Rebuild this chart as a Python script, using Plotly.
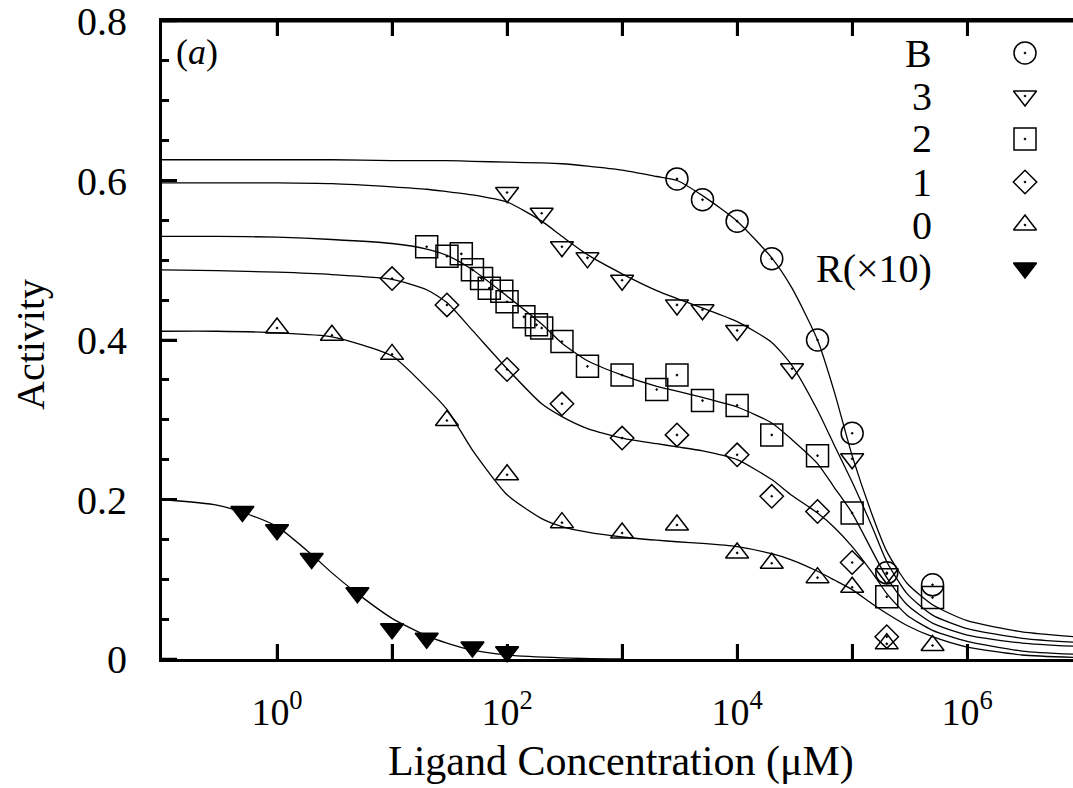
import math
import plotly.graph_objects as go

# ---------------- data ----------------
# Fitted curves, sampled on a shared concentration grid (uM)
curve_x = [0.1, 0.3, 1, 3, 10, 20, 30, 50, 100, 200, 300, 500, 1e3, 2e3, 3e3, 5e3,
           1e4, 2e4, 3e4, 5e4, 7e4, 1e5, 1.5e5, 2e5, 3e5, 5e5, 1e6, 3e6, 8.5e6]
curve_B = [0.626, 0.626, 0.626, 0.626, 0.625, 0.625, 0.625, 0.624, 0.623, 0.622, 0.621, 0.618,
           0.613, 0.605, 0.600, 0.581, 0.549, 0.503, 0.465, 0.400, 0.335, 0.255, 0.180, 0.135,
           0.095, 0.068, 0.048, 0.034, 0.028]
curve_3 = [0.597, 0.597, 0.597, 0.596, 0.592, 0.589, 0.586, 0.582, 0.573, 0.549, 0.530, 0.507,
           0.483, 0.462, 0.452, 0.440, 0.423, 0.397, 0.368, 0.312, 0.268, 0.222, 0.165, 0.122,
           0.082, 0.055, 0.038, 0.026, 0.021]
curve_2 = [0.530, 0.530, 0.529, 0.526, 0.521, 0.514, 0.506, 0.488, 0.455, 0.420, 0.396, 0.374,
           0.356, 0.342, 0.336, 0.328, 0.316, 0.296, 0.275, 0.245, 0.215, 0.183, 0.135, 0.102,
           0.068, 0.045, 0.030, 0.020, 0.016]
curve_1 = [0.488, 0.487, 0.485, 0.482, 0.476, 0.463, 0.447, 0.412, 0.364, 0.320, 0.304, 0.289,
           0.277, 0.270, 0.266, 0.261, 0.250, 0.225, 0.205, 0.183, 0.165, 0.141, 0.108, 0.082,
           0.055, 0.036, 0.022, 0.010, 0.006]
curve_0 = [0.411, 0.411, 0.409, 0.404, 0.380, 0.340, 0.313, 0.262, 0.206, 0.176, 0.166, 0.159,
           0.153, 0.149, 0.147, 0.145, 0.141, 0.132, 0.124, 0.110, 0.099, 0.087, 0.069, 0.057,
           0.042, 0.028, 0.015, 0.005, 0.002]
curveR_x = [0.1, 0.3, 0.5, 1, 2, 3, 5, 10, 20, 30, 50, 100, 300, 1000]
curve_R = [0.200, 0.193, 0.184, 0.166, 0.131, 0.108, 0.082, 0.051, 0.029, 0.020, 0.011, 0.005,
           0.0015, 0.0]

# Measured points
B_x = [3e3, 5e3, 1e4, 2e4, 5e4, 1e5, 2e5, 5e5]
B_y = [0.602, 0.576, 0.549, 0.502, 0.400, 0.283, 0.108, 0.093]
s3_x = [100, 200, 300, 500, 1e3, 3e3, 5e3, 1e4, 3e4, 1e5, 2e5]
s3_y = [0.585, 0.559, 0.517, 0.503, 0.475, 0.444, 0.438, 0.412, 0.364, 0.251, 0.107]
s2_x = [20, 30, 40, 50, 60, 70, 90, 100, 140, 180, 200, 300, 500, 1e3, 2e3, 3e3, 5e3,
        1e4, 2e4, 5e4, 1e5, 2e5, 5e5]
s2_y = [0.517, 0.505, 0.508, 0.488, 0.477, 0.465, 0.461, 0.448, 0.429, 0.419, 0.415, 0.398,
        0.367, 0.356, 0.338, 0.356, 0.324, 0.318, 0.281, 0.255, 0.183, 0.078, 0.077]
s1_x = [10, 30, 100, 300, 1e3, 3e3, 1e4, 2e4, 5e4, 1e5, 2e5]
s1_y = [0.477, 0.444, 0.363, 0.320, 0.277, 0.281, 0.256, 0.204, 0.185, 0.121, 0.028]
s0_x = [1, 3, 10, 30, 100, 300, 1e3, 3e3, 1e4, 2e4, 5e4, 1e5, 2e5, 5e5]
s0_y = [0.415, 0.406, 0.382, 0.299, 0.231, 0.171, 0.158, 0.168, 0.133, 0.120, 0.102, 0.090,
        0.019, 0.017]
R_x = [0.5, 1, 2, 5, 10, 20, 50, 100]
R_y = [0.185, 0.162, 0.126, 0.083, 0.038, 0.026, 0.015, 0.009]

legend_labels = ["B", "3", "2", "1", "0", "R(\u00d710)"]
legend_symbols = ["circle-open-dot", "triangle-down-open-dot", "square-open-dot",
                  "diamond-open-dot", "triangle-up-open-dot", "triangle-down"]
legend_sizes = [22, 20, 22, 18, 20, 20]

x_tickvals = [1, 10, 100, 1e3, 1e4, 1e5, 1e6]
x_ticktext = ["10<sup>0</sup>", " ", "10<sup>2</sup>", " ", "10<sup>4</sup>", " ",
              "10<sup>6</sup>"]
y_tickvals = [0, 0.2, 0.4, 0.6, 0.8]
y_ticktext = ["0", "0.2", "0.4", "0.6", "0.8"]

# ---------------- figure ----------------
FONT = "Liberation Serif"
W, H = 1073, 788
L, R, T, B = 162, 0, 21, 129
pw, ph = W - L - R, H - T - B
XRANGE = [-1, 6.92]
YRANGE = [0, 0.8]
TICKLEN = 15


def px_to_data(px, py):
    """Convert a legend slot given in figure pixels to data coordinates."""
    fx = (px - L) / pw
    fy = (H - B - py) / ph
    return (10 ** (XRANGE[0] + fx * (XRANGE[1] - XRANGE[0])),
            YRANGE[0] + fy * (YRANGE[1] - YRANGE[0]))


def xfrac(v):
    return (math.log10(v) - XRANGE[0]) / (XRANGE[1] - XRANGE[0])


fig = go.Figure()

line_style = dict(color="black", width=1.3, shape="spline", smoothing=0.6)
for cy in [curve_B, curve_3, curve_2, curve_1, curve_0]:
    fig.add_trace(go.Scatter(x=curve_x, y=cy, mode="lines", line=line_style,
                             showlegend=False, hoverinfo="skip"))
fig.add_trace(go.Scatter(x=curveR_x, y=curve_R, mode="lines", line=line_style,
                         showlegend=False, hoverinfo="skip"))

series = [(B_x, B_y), (s3_x, s3_y), (s2_x, s2_y), (s1_x, s1_y), (s0_x, s0_y), (R_x, R_y)]
for (sx, sy), sym, sz in zip(series, legend_symbols, legend_sizes):
    fig.add_trace(go.Scatter(
        x=sx, y=sy, mode="markers", cliponaxis=False, showlegend=False,
        marker=dict(symbol=sym, size=sz, color="black",
                    line=dict(color="black", width=1.5))))

# legend: text left, symbol right, as in the reference
row_top, row_step = 53, 43
for i, (lab, sym, sz) in enumerate(zip(legend_labels, legend_symbols, legend_sizes)):
    py = row_top + i * row_step
    sx, sy = px_to_data(1025, py)
    fig.add_trace(go.Scatter(
        x=[sx], y=[sy], mode="markers", cliponaxis=False,
        showlegend=False, hoverinfo="skip",
        marker=dict(symbol=sym, size=sz, color="black", line=dict(color="black", width=1.5))))
    fig.add_annotation(x=(934 - L) / pw, y=(H - B - py) / ph, xref="paper", yref="paper",
                       text=lab, showarrow=False, xanchor="right", yanchor="middle",
                       font=dict(family=FONT, size=40, color="black"))

fig.add_annotation(x=(174 - L) / pw, y=(H - B - 52) / ph, xref="paper", yref="paper",
                   text="(<i>a</i>)", showarrow=False, xanchor="left", yanchor="middle",
                   font=dict(family=FONT, size=36, color="black"))
fig.add_annotation(x=(621 - L) / pw, y=(H - B - 761) / ph, xref="paper", yref="paper",
                   text="Ligand Concentration (\u03bcM)", showarrow=False,
                   xanchor="center", yanchor="middle",
                   font=dict(family=FONT, size=42, color="black"))
fig.add_annotation(x=(30 - L) / pw, y=(H - B - 345) / ph, xref="paper", yref="paper",
                   text="Activity", showarrow=False, textangle=-90,
                   xanchor="center", yanchor="middle",
                   font=dict(family=FONT, size=40, color="black"))

# frame reinforcement: top border and decade / major ticks (coincide with axis ticks)
tick_line = dict(color="black", width=2.5)
fig.add_shape(type="line", xref="paper", yref="paper", x0=0, x1=1, y0=1, y1=1,
              line=dict(color="black", width=3))
for v in x_tickvals:
    f = xfrac(v)
    fig.add_shape(type="line", xref="paper", yref="paper", x0=f, x1=f,
                  y0=0, y1=TICKLEN / ph, line=tick_line)
    fig.add_shape(type="line", xref="paper", yref="paper", x0=f, x1=f,
                  y0=1, y1=1 - TICKLEN / ph, line=tick_line)
for v in y_tickvals:
    fig.add_shape(type="line", xref="paper", yref="y", x0=0, x1=TICKLEN / pw,
                  y0=v, y1=v, line=tick_line)

fig.update_layout(
    width=W, height=H, margin=dict(l=L, r=R, t=T, b=B),
    paper_bgcolor="white", plot_bgcolor="white",
    xaxis=dict(type="log", range=XRANGE, showline=True, linecolor="black", linewidth=3,
               mirror="allticks", ticks="inside", ticklen=TICKLEN, tickwidth=2.5,
               tickcolor="black", showgrid=False, zeroline=False,
               tickmode="array", tickvals=x_tickvals, ticktext=x_ticktext,
               ticklabelstandoff=17,
               tickfont=dict(family=FONT, size=38, color="black")),
    yaxis=dict(range=YRANGE, showline=True, linecolor="black", linewidth=3, mirror=False,
               ticks="inside", ticklen=TICKLEN, tickwidth=2.5, tickcolor="black",
               showgrid=False, zeroline=False,
               tickmode="array", tickvals=y_tickvals, ticktext=y_ticktext,
               ticklabelstandoff=24, ticklabeloverflow="allow",
               minor=dict(dtick=0.05, ticks="inside", ticklen=7, tickwidth=2.5,
                          tickcolor="black", showgrid=False),
               tickfont=dict(family=FONT, size=40, color="black")),
    showlegend=False,
)

fig.write_html("out.html")
